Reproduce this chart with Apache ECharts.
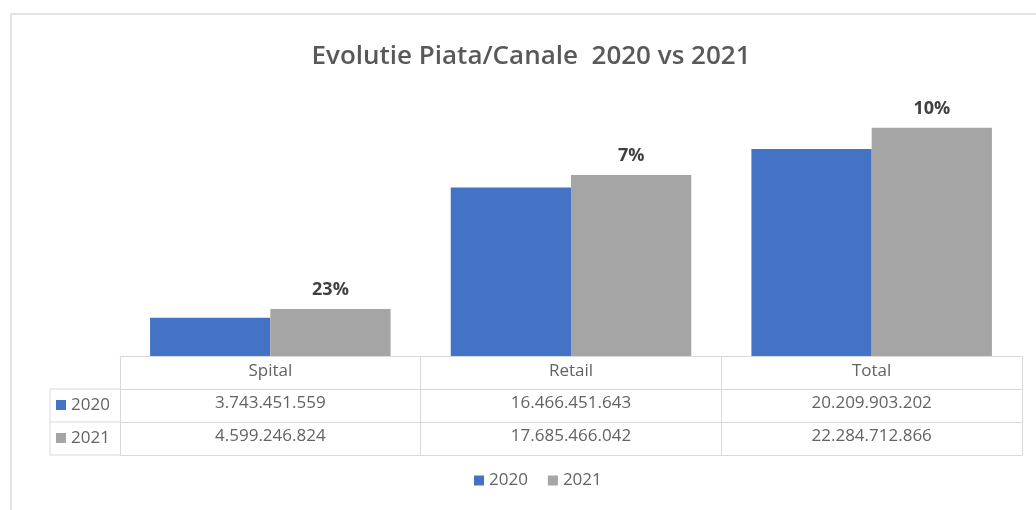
<!DOCTYPE html>
<html><head><meta charset="utf-8">
<style>html,body{margin:0;padding:0;background:#fff}#c{width:1036px;height:510px}</style>
<script src="https://cdn.jsdelivr.net/npm/echarts@6/dist/echarts.min.js"></script>
</head><body><div id="c"></div>
<script>
const categories = ['Spital', 'Retail', 'Total'];
const seriesNames = ['2020', '2021'];
const values2020 = [3743451559, 16466451643, 20209903202];
const values2021 = [4599246824, 17685466042, 22284712866];
const growthLabels = ['23%', '7%', '10%'];
const colors = ['#4472C4', '#A5A5A5'];

function fmt(v) { return String(v).replace(/\B(?=(\d{3})+(?!\d))/g, '.'); }

const FONT = "'Open Sans', 'Liberation Sans', sans-serif";
const TXT = '#595959';
const TBL = '#636363';
const LINE = '#d9d9d9';
const FS = 17;
const gridL = 120, gridR = 14, axisY = 356;
const rowH = 33;

const chart = echarts.init(document.getElementById('c'));
const rowAxes = [values2020, values2021].map((vals, i) => ({
  type: 'category', data: categories, position: 'bottom', offset: rowH * (i + 1),
  axisLine: { show: true, lineStyle: { color: LINE } },
  axisTick: { show: false },
  axisLabel: { margin: 6, color: TBL, fontSize: FS, fontFamily: FONT,
    formatter: (v, idx) => fmt(vals[idx]) }
}));
rowAxes.push({
  type: 'category', data: categories, position: 'bottom', offset: rowH * 3,
  axisLine: { show: true, lineStyle: { color: LINE } },
  axisTick: { show: false }, axisLabel: { show: false }
});

const leftGraphics = [];
[0, 1].forEach(i => {
  const yTop = axisY + rowH * (i + 1);
  leftGraphics.push({ type: 'rect', shape: { x: 56, y: yTop + 11, width: 10, height: 10 }, style: { fill: colors[i] } });
  leftGraphics.push({ type: 'text', x: 71, y: yTop + 16, style: { text: seriesNames[i], fill: TBL, font: FS + 'px ' + FONT, textVerticalAlign: 'middle' } });
});
[1, 2, 3].forEach(k => {
  leftGraphics.push({ type: 'line', shape: { x1: 50, y1: axisY + rowH * k, x2: gridL, y2: axisY + rowH * k }, style: { stroke: LINE, lineWidth: 1 } });
});
leftGraphics.push({ type: 'line', shape: { x1: 50, y1: axisY + rowH, x2: 50, y2: axisY + rowH * 3 }, style: { stroke: LINE, lineWidth: 1 } });
leftGraphics.push({ type: 'rect', shape: { x: 11, y: 14, width: 1040, height: 520 }, style: { fill: 'none', stroke: '#dcdcdc', lineWidth: 1.5 } });

chart.setOption({
  animation: false,
  backgroundColor: '#fff',
  title: { text: 'Evolutie Piata/Canale  2020 vs 2021', left: 526, textAlign: 'center', top: 39,
    textStyle: { color: TXT, fontSize: 26, fontWeight: 600, fontFamily: FONT } },
  legend: { bottom: 16, left: 469, itemWidth: 10, itemHeight: 10, itemGap: 20,
    icon: 'rect', textStyle: { color: TBL, fontSize: FS, fontFamily: FONT }, data: seriesNames },
  grid: { left: gridL, right: gridR, top: 100, bottom: 510 - axisY },
  xAxis: [{
    type: 'category', data: categories, position: 'bottom',
    axisLine: { show: true, lineStyle: { color: LINE } },
    axisTick: { show: true, length: rowH * 3, lineStyle: { color: LINE } },
    axisLabel: { margin: 7, color: TBL, fontSize: FS, fontFamily: FONT }
  }].concat(rowAxes),
  yAxis: { type: 'value', min: 0, max: 25000000000, show: false, splitLine: { show: false } },
  series: [
    { name: seriesNames[0], type: 'bar', data: values2020, barGap: '0%', barCategoryGap: '20%',
      itemStyle: { color: colors[0] } },
    { name: seriesNames[1], type: 'bar', data: values2021, barGap: '0%', barCategoryGap: '20%',
      itemStyle: { color: colors[1] },
      label: { show: true, position: 'top', distance: 10, formatter: p => growthLabels[p.dataIndex],
        color: '#404040', fontWeight: 'bold', fontSize: 18, fontFamily: FONT } }
  ],
  graphic: leftGraphics
});
</script></body></html>
